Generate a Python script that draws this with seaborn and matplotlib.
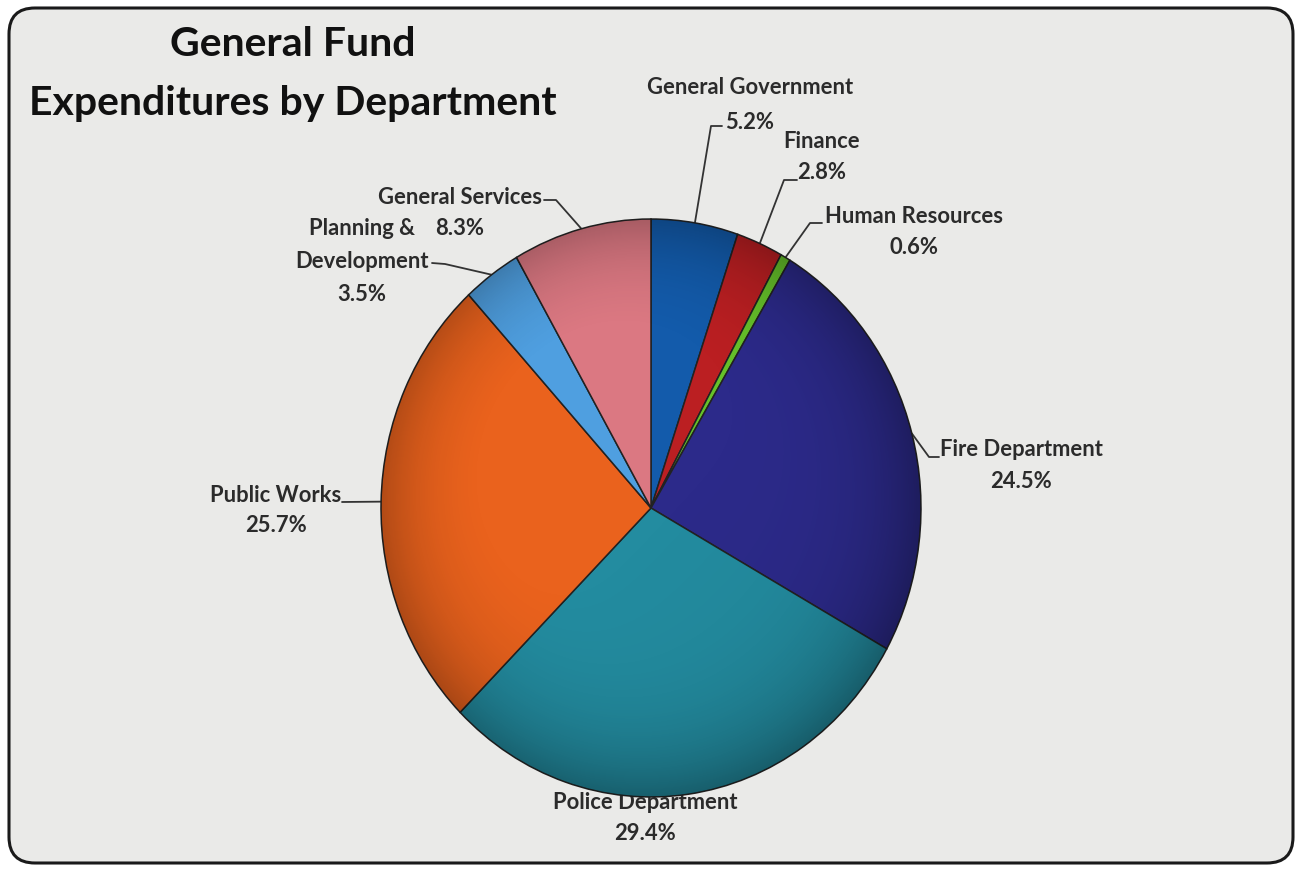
import numpy as np
import matplotlib
matplotlib.use("Agg")
import matplotlib.pyplot as plt
from matplotlib.patches import FancyBboxPatch, Circle
import seaborn as sns

# Department shares of General Fund spending (percent), clockwise from 12 o'clock
departments = ["General Government", "Finance", "Human Resources", "Fire Department",
               "Police Department", "Public Works", "Planning &\nDevelopment", "General Services"]
shares = [5.2, 2.8, 0.6, 24.5, 29.4, 25.7, 3.5, 8.3]
colors = ["#135bab", "#bb1f22", "#66c22a", "#2c2a8a",
          "#238ca0", "#ea621d", "#4f9fe0", "#db7882"]
title_lines = ["General Fund", "Expenditures by Department"]

sns.set_theme(style="white")
plt.rcParams["font.family"] = ["Lato", "DejaVu Sans"]

W, H = 1302, 871
fig = plt.figure(figsize=(W / 100, H / 100), dpi=100)
fig.patch.set_facecolor("white")

# Overlay axes in pixel units (y downwards) for frame, title and labels
ov = fig.add_axes([0, 0, 1, 1])
ov.set_xlim(0, W)
ov.set_ylim(H, 0)
ov.axis("off")
ov.add_patch(FancyBboxPatch((9, 8), W - 18, H - 16,
                            boxstyle="round,pad=0,rounding_size=26",
                            facecolor="#eaeae8", edgecolor="#1a1a1a", linewidth=2.2, zorder=0))

# Pie axes: stretched slightly taller than wide
cx, cy, rx, ry = 651, 508, 270, 289
ax = fig.add_axes([(cx - rx) / W, (H - cy - ry) / H, 2 * rx / W, 2 * ry / H])
wedges, _ = ax.pie(shares, colors=colors, startangle=90, counterclock=False,
                   wedgeprops=dict(edgecolor="#222222", linewidth=1.1))
ax.set_aspect("auto")
ax.set_xlim(-1, 1)
ax.set_ylim(-1, 1)
ax.axis("off")

# Soft bevel shading: darker toward the rim and lower right
g = np.linspace(-1, 1, 400)
gx, gy = np.meshgrid(g, g)
r = np.sqrt(gx ** 2 + gy ** 2)
shade = np.clip(0.28 * r ** 5 + 0.08 * (gx - gy) / 2, 0, 0.4)
rgba = np.zeros((400, 400, 4))
rgba[..., 3] = shade
img = ax.imshow(rgba, extent=(-1, 1, -1, 1), origin="lower", zorder=3,
                interpolation="bilinear", aspect="auto")
img.set_clip_path(Circle((0, 0), 1.0, transform=ax.transData))
ax.set_xlim(-1, 1)
ax.set_ylim(-1, 1)

# Title
ov.text(293, 45, title_lines[0], ha="center", va="center", fontsize=29.5,
        fontweight="bold", color="#111111")
ov.text(293, 103, title_lines[1], ha="center", va="center", fontsize=29.5,
        fontweight="bold", color="#111111")

# Label block centre, line pitch, leader elbow and leader end (pixels)
label_pos = [(750, 105), (822, 157), (914, 232), (1021, 465),
             (645, 818), (276, 510), (362, 261), (460, 213)]
pitch = [35, 31, 31, 32, 31, 30, 33, 31]
leaders = [[(711, 126), (722, 126)],
           [(784, 180), (797, 180)],
           [(810, 223), (822, 223)],
           [(929, 457), (939, 457)],
           None,
           [(342, 502)],
           [(445, 264), (432, 263)],
           [(556, 200), (544, 200)]]

to_px = lambda p: ov.transData.inverted().transform(ax.transData.transform(p))

for w, name, val, pos, step, lead in zip(wedges, departments, shares, label_pos, pitch, leaders):
    mid = np.deg2rad((w.theta1 + w.theta2) / 2)
    lines = name.split("\n") + [f"{val:.1f}%"]
    n = len(lines)
    for i, line in enumerate(lines):
        y = pos[1] + (i - (n - 1) / 2) * step
        ov.text(pos[0], y, line, ha="center", va="center", fontsize=15.8,
                color="#2b2b2b", fontweight="bold", zorder=5)
    if lead is not None:
        edge = to_px((np.cos(mid), np.sin(mid)))
        pts = [tuple(edge)] + lead
        xs, ys = zip(*pts)
        ov.plot(xs, ys, color="#333333", linewidth=1.3, zorder=4)

fig.savefig("out.png", dpi=100, facecolor="white")
